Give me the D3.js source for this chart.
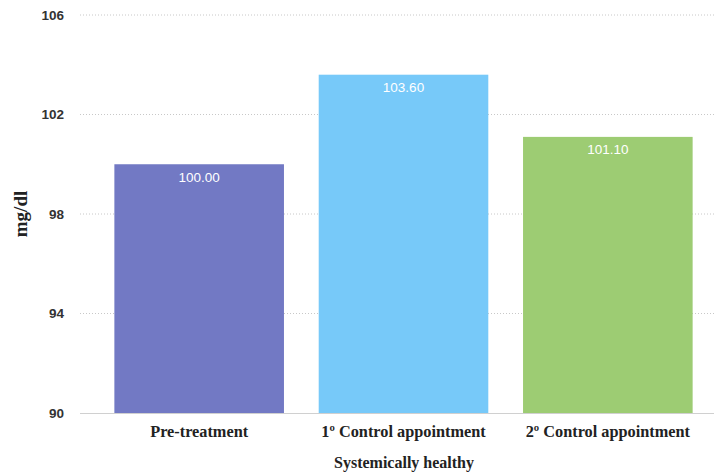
<!DOCTYPE html>
<html><head><meta charset="utf-8">
<script src="https://cdn.jsdelivr.net/npm/d3@7"></script>
<style>body{margin:0;background:#fff}svg{display:block}</style>
</head><body>
<svg id="c" width="714" height="472"></svg>
<script>
const categories = ["Pre-treatment", "1º Control appointment", "2º Control appointment"];
const values = [100.00, 103.60, 101.10];
const colors = ["#7279C4", "#77C9F9", "#9DCC73"];
const yTicks = [90, 94, 98, 102, 106];
const yTitle = "mg/dl";
const xTitle = "Systemically healthy";

const svg = d3.select("#c");
const y = d3.scaleLinear().domain([90, 106]).range([413, 15]);
const x = d3.scaleBand().domain(categories).range([97, 710]).paddingInner(0.17).paddingOuter(0.085);

// gridlines
svg.append("g").selectAll("line").data(yTicks.filter(t => t !== 90)).join("line")
  .attr("x1", 80).attr("x2", 714).attr("y1", d => y(d)).attr("y2", d => y(d))
  .attr("stroke", "#c8c8c8").attr("stroke-width", 1).attr("stroke-dasharray", "1,2");

// y tick labels
const yAxis = d3.axisLeft(y).tickValues(yTicks).tickSize(0).tickPadding(0).tickFormat(d3.format("d"));
const ga = svg.append("g").attr("transform", "translate(64,0)").call(yAxis);
ga.select(".domain").remove();
ga.selectAll("text").attr("font-family", "Liberation Sans, Arial, sans-serif")
  .attr("font-weight", "bold").attr("font-size", 13.5).attr("fill", "#333");

// bars
svg.append("g").selectAll("rect").data(values).join("rect")
  .attr("x", (d, i) => x(categories[i])).attr("width", x.bandwidth())
  .attr("y", d => y(d)).attr("height", d => y(90) - y(d))
  .attr("fill", (d, i) => colors[i]);

// baseline
svg.append("line").attr("x1", 80).attr("x2", 714).attr("y1", y(90) + 0.5).attr("y2", y(90) + 0.5)
  .attr("stroke", "#d0d0d0").attr("stroke-width", 1);

// value labels
svg.append("g").selectAll("text").data(values).join("text")
  .attr("x", (d, i) => x(categories[i]) + x.bandwidth() / 2)
  .attr("y", d => y(d) + 17.3)
  .attr("text-anchor", "middle").attr("fill", "#fff")
  .attr("font-family", "Liberation Sans, Arial, sans-serif").attr("font-size", 13.5)
  .text(d => d3.format(".2f")(d));

// x axis labels
const xAxis = d3.axisBottom(x).tickSize(0).tickPadding(0);
const gx = svg.append("g").attr("transform", "translate(0,425)").call(xAxis);
gx.select(".domain").remove();
gx.selectAll("text").attr("font-family", "Liberation Serif, Times New Roman, serif")
  .attr("font-weight", "bold").attr("font-size", 16.3).attr("fill", "#222");

// axis titles
svg.append("text").attr("x", 404).attr("y", 467.5).attr("text-anchor", "middle")
  .attr("font-family", "Liberation Serif, Times New Roman, serif").attr("font-weight", "bold")
  .attr("font-size", 16).attr("fill", "#222").text(xTitle);
svg.append("text").attr("transform", "translate(27,214) rotate(-90)").attr("text-anchor", "middle")
  .attr("font-family", "Liberation Serif, Times New Roman, serif").attr("font-weight", "bold")
  .attr("font-size", 19).attr("fill", "#222").text(yTitle);
</script>
</body></html>
